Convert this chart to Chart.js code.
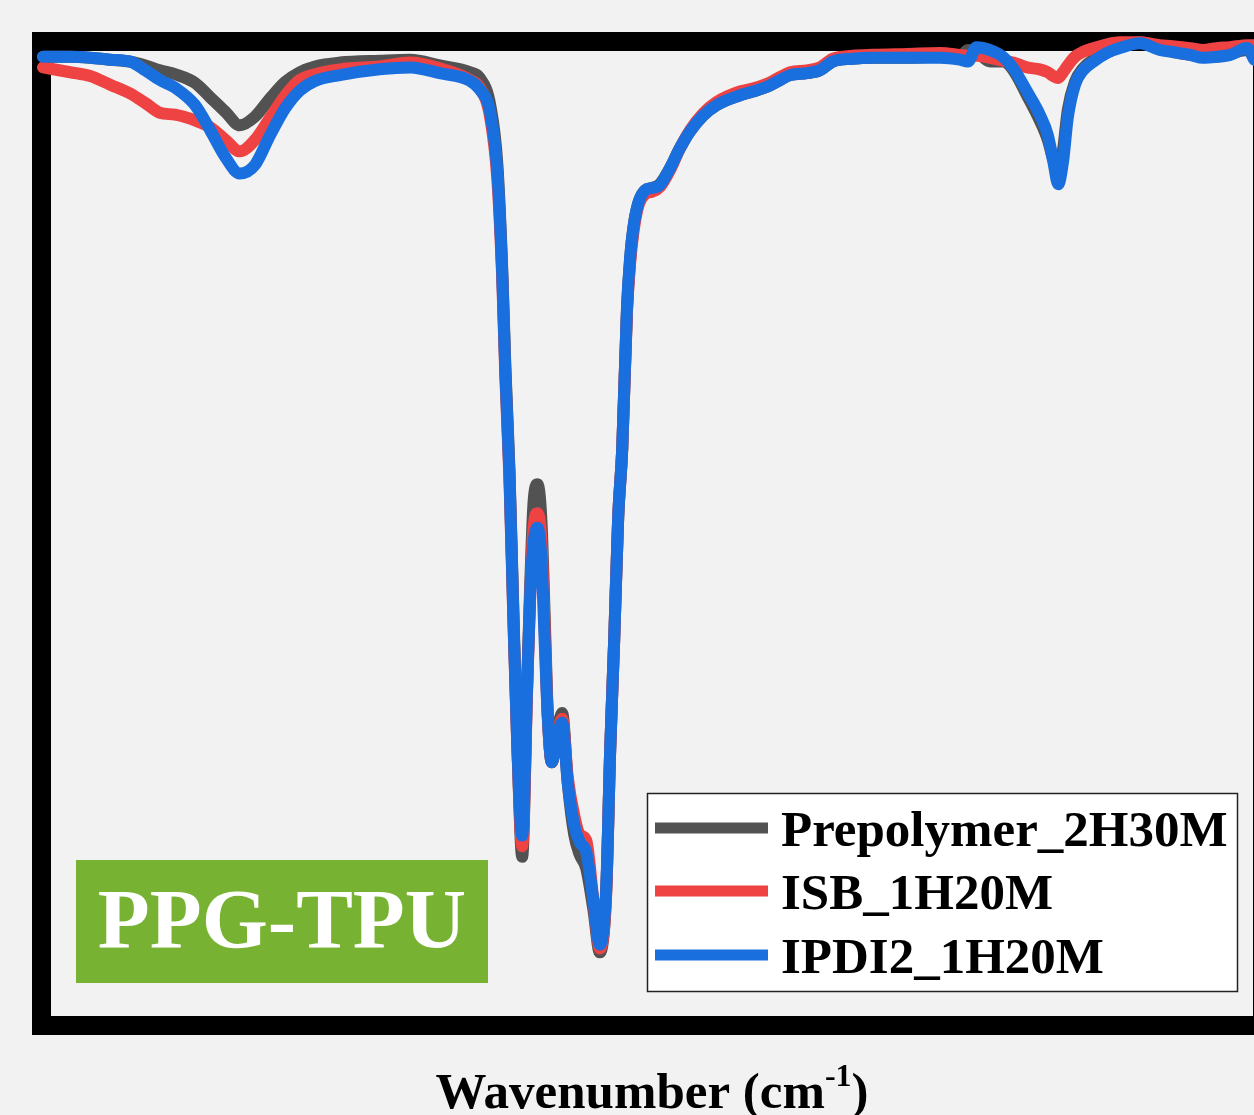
<!DOCTYPE html>
<html>
<head>
<meta charset="utf-8">
<script src="https://cdn.jsdelivr.net/npm/chart.js@4.4.0/dist/chart.umd.min.js"></script>
<style>
  html, body { margin: 0; padding: 0; background: #f2f2f2; }
  #wrap { width: 1254px; height: 1115px; }
</style>
</head>
<body>
<div id="wrap"><canvas id="ftir" width="1254" height="1115"></canvas></div>
<script>
// wavenumber (cm-1)
var wavenumber = [3560,3526,3501,3476,3451,3432,3414,3395,3370,3351,
    3332,3314,3295,3276,3257,3239,3220,3189,3139,3101,
    3064,3026,3014,3001,2992,2986,2982,2977,2972,2967,
    2961,2955,2951,2947,2942,2937,2932,2929,2924,2918,
    2911,2904,2896,2889,2881,2872,2864,2856,2851,2846,
    2841,2836,2830,2826,2822,2816,2807,2799,2789,2776,
    2764,2751,2735,2718,2689,2673,2655,2643,2626,2605,
    2589,2573,2548,2523,2480,2439,2414,2404,2393,2376,
    2360,2347,2330,2314,2304,2297,2291,2285,2279,2270,
    2260,2247,2230,2214,2189,2164,2148,2126,2110,2093,
    2076,2055,2046];

// transmittance (%)
var prepolymer = [99.4,99.4,99.3,99.1,98.9,98.5,98.0,97.6,96.7,95.2,
    93.7,92.3,93.2,95.1,96.8,97.8,98.4,98.8,99.0,99.1,
    98.5,97.8,97.2,94.4,88.2,77.5,67.2,56.8,41.9,28.1,
    16.5,33.8,44.7,53.0,55.1,51.4,39.0,31.2,26.3,29.1,
    31.4,24.1,18.8,16.7,15.3,11.0,6.6,12.8,27.6,39.0,
    51.7,58.7,73.2,78.5,81.7,84.2,85.6,85.8,86.2,87.9,
    89.9,91.7,93.3,94.4,95.4,95.8,96.3,96.8,97.5,97.7,
    98.0,98.9,99.2,99.3,99.3,99.4,99.3,100.1,99.9,98.9,
    98.9,98.0,95.4,92.8,90.8,88.7,87.5,89.7,93.9,96.8,
    98.2,99.1,99.9,100.4,100.9,100.3,99.9,99.6,99.4,99.4,
    99.7,100.1,99.9];

var isb = [98.3,97.8,97.4,96.5,95.6,94.6,93.6,93.4,92.8,92.1,
    90.8,89.6,90.8,93.1,95.4,97.0,97.6,98.1,98.4,98.8,
    98.2,97.0,96.2,93.1,86.6,76.5,66.1,55.8,41.0,27.6,
    17.6,33.3,43.6,50.4,52.1,49.3,37.9,31.0,26.3,28.6,
    30.8,24.7,20.8,18.8,18.2,12.0,7.0,12.8,27.6,39.0,
    51.7,58.7,73.0,78.1,81.2,83.9,85.2,85.4,85.9,87.7,
    89.9,91.8,93.5,94.7,95.8,96.1,96.6,97.1,97.8,98.0,
    98.3,99.2,99.5,99.6,99.7,99.8,99.6,99.5,99.5,99.3,
    99.0,98.8,98.3,98.1,97.8,97.4,97.2,97.8,98.5,99.4,
    99.9,100.3,100.7,100.9,100.9,100.6,100.5,100.3,100.1,100.3,
    100.4,100.6,100.6];

var ipdi2 = [99.4,99.4,99.3,99.1,98.9,98.0,97.0,96.2,94.4,91.8,
    89.0,87.3,88.2,91.3,94.1,95.9,96.9,97.5,98.1,98.3,
    97.7,96.9,96.0,93.6,87.4,77.0,66.6,56.3,41.3,27.8,
    18.7,33.8,43.6,48.8,50.6,47.3,36.9,31.0,26.3,28.6,
    30.4,24.1,19.8,18.0,17.0,12.0,7.4,13.3,27.6,39.0,
    51.7,58.7,73.5,78.7,81.7,84.2,85.6,85.8,86.1,87.9,
    89.9,91.7,93.3,94.4,95.4,95.8,96.3,96.8,97.5,97.7,
    98.0,98.9,99.2,99.3,99.3,99.3,99.1,98.9,100.4,100.1,
    99.4,98.2,95.8,93.4,91.3,88.5,86.2,88.5,93.1,96.5,
    98.0,98.9,99.8,100.3,100.8,100.1,99.9,99.6,99.3,99.4,
    99.6,100.3,99.1];

var seriesNames = ['Prepolymer_2H30M', 'ISB_1H20M', 'IPDI2_1H20M'];
var seriesColors = ['#525252', '#ef4343', '#1a6fde'];
var sampleLabel = 'PPG-TPU';

function pts(ys) {
    return wavenumber.map(function (w, i) { return { x: w, y: ys[i] }; });
}

var serif = '"Liberation Serif", "Times New Roman", serif';

// page background, frame, legend and labels
var decor = {
    id: 'decor',
    beforeDraw: function (chart) {
        var ctx = chart.ctx;
        ctx.save();
        ctx.fillStyle = '#f2f2f2';
        ctx.fillRect(0, 0, chart.width, chart.height);
        ctx.restore();
    },
    beforeDatasetsDraw: function (chart) {
        var ctx = chart.ctx, a = chart.chartArea;
        ctx.save();
        ctx.strokeStyle = '#000';
        ctx.lineWidth = 19;
        ctx.strokeRect(a.left - 9.5, a.top - 9.5, a.right - a.left + 19, a.bottom - a.top + 19);
        ctx.restore();
    },
    afterDraw: function (chart) {
        var ctx = chart.ctx;
        ctx.save();

        // legend box
        ctx.fillStyle = '#fff';
        ctx.fillRect(647, 793, 591, 199);
        ctx.strokeStyle = '#222';
        ctx.lineWidth = 1.5;
        ctx.strokeRect(647.5, 793.5, 590, 198);
        var rows = [828, 891, 955];
        ctx.font = 'bold 51px ' + serif;
        ctx.textBaseline = 'alphabetic';
        ctx.textAlign = 'left';
        chart.data.datasets.forEach(function (ds, i) {
            ctx.strokeStyle = ds.borderColor;
            ctx.lineWidth = 11;
            ctx.beginPath();
            ctx.moveTo(655, rows[i]);
            ctx.lineTo(768, rows[i]);
            ctx.stroke();
            ctx.fillStyle = '#000';
            ctx.fillText(ds.label, 781, rows[i] + 18);
        });

        // sample tag
        ctx.fillStyle = '#78b232';
        ctx.fillRect(76, 860, 412, 123);
        ctx.fillStyle = '#fff';
        ctx.font = 'bold 85px ' + serif;
        ctx.textAlign = 'center';
        ctx.fillText(sampleLabel, 282, 948);

        // x axis title with superscript
        var main = 'Wavenumber (cm', sup = '-1', close = ')';
        ctx.fillStyle = '#000';
        ctx.textAlign = 'left';
        ctx.font = 'bold 51px ' + serif;
        var w1 = ctx.measureText(main).width;
        var w3 = ctx.measureText(close).width;
        ctx.font = 'bold 32px ' + serif;
        var w2 = ctx.measureText(sup).width;
        var x0 = 652 - (w1 + w2 + w3) / 2;
        var base = 1108;
        ctx.font = 'bold 51px ' + serif;
        ctx.fillText(main, x0, base);
        ctx.font = 'bold 32px ' + serif;
        ctx.fillText(sup, x0 + w1, base - 22);
        ctx.font = 'bold 51px ' + serif;
        ctx.fillText(close, x0 + w1 + w2, base);
        ctx.restore();
    }
};

window.addEventListener('load', function () {
    var ctx = document.getElementById('ftir').getContext('2d');
    var datasets = [prepolymer, isb, ipdi2].map(function (ys, i) {
        return {
            label: seriesNames[i],
            data: pts(ys),
            borderColor: seriesColors[i],
            backgroundColor: seriesColors[i],
            borderWidth: 12,
            pointRadius: 0,
            cubicInterpolationMode: 'monotone',
            borderJoinStyle: 'round',
            borderCapStyle: 'round',
            clip: false,
            order: 3 - i
        };
    });
    new Chart(ctx, {
        type: 'line',
        data: { datasets: datasets },
        options: {
            responsive: false,
            animation: false,
            events: [],
            layout: { padding: { left: 51, top: 51, right: 1, bottom: 99 } },
            scales: {
                x: { type: 'linear', min: 2047.5, max: 3550, reverse: true, display: false },
                y: { min: 0, max: 100, display: false }
            },
            plugins: {
                legend: { display: false },
                tooltip: { enabled: false }
            }
        },
        plugins: [decor]
    });
});
</script>
</body>
</html>
